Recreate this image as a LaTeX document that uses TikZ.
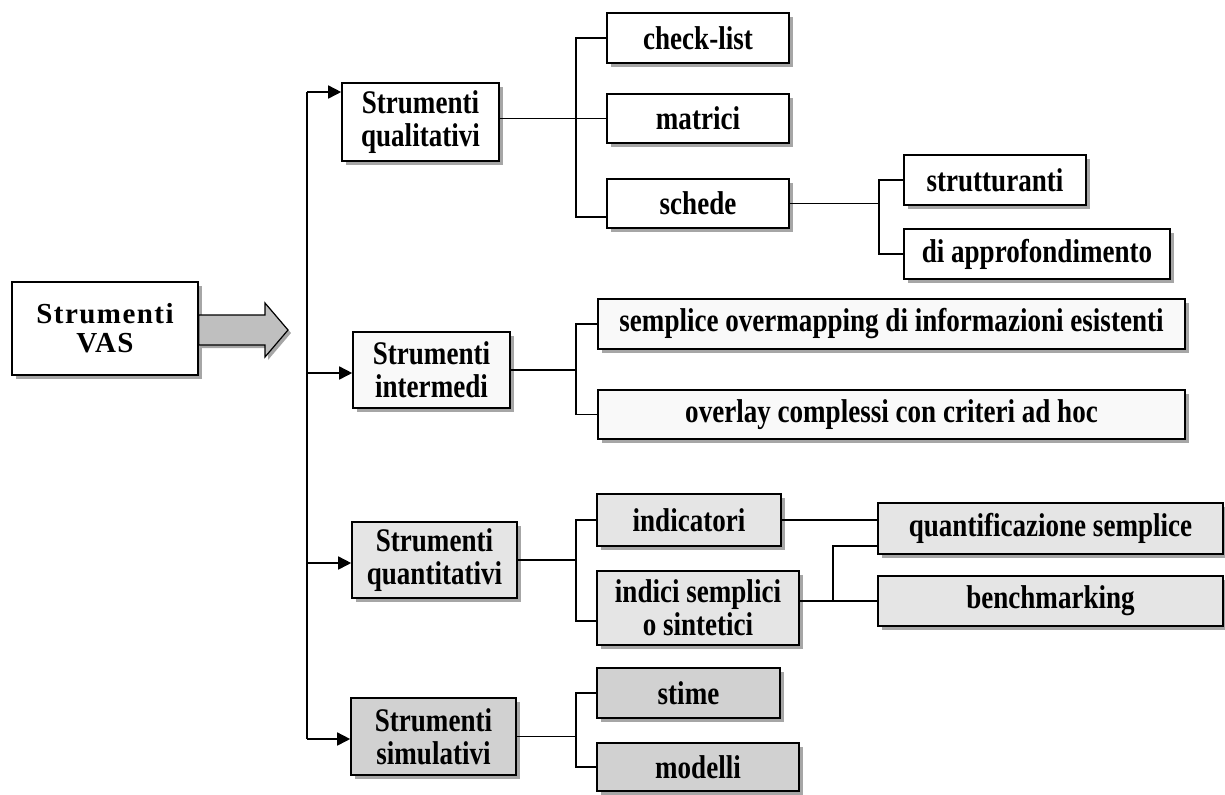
\documentclass[tikz,border=0pt]{standalone}
\usepackage{fontspec}
\setmainfont{Liberation Serif}[FakeStretch=0.82]
\newfontfamily\vasfont{Liberation Serif}[LetterSpace=5]
\usetikzlibrary{shadows,arrows.meta}

\begin{document}
\begin{tikzpicture}[x=0.5pt,y=-0.5pt,
  box/.style={draw=black, line width=0.8pt, fill=white, align=center, inner sep=0pt,
    font=\fontsize{16.5}{16.5}\selectfont\bfseries,
    drop shadow={shadow xshift=2pt, shadow yshift=-2pt, fill=gray!70, opacity=1}},
  white box/.style={box, fill=white},
  light box/.style={box, fill=gray!5},
  mid box/.style={box, fill=gray!20},
  dark box/.style={box, fill=gray!36},
  link/.style={line width=0.8pt},
  feed/.style={link, -{Triangle[length=6.5pt,width=6.5pt]}}
]
\useasboundingbox (0,0) rectangle (1225,794);

% root
\node[white box, minimum width=93pt, minimum height=46.5pt,
      font=\vasfont\fontsize{14.5}{14.5}\selectfont\bfseries] (vas) at (105,328.5) {Strumenti\\VAS};

% big arrow out of the root
\path[draw=black, line width=0.6pt, fill=gray!50,
      drop shadow={shadow xshift=1.5pt, shadow yshift=-1.5pt, fill=gray!70, opacity=1}]
  (vas.east |- 0,315) -- (265,315) -- (265,303) -- (288,330) -- (265,357) -- (265,345)
  -- (vas.east |- 0,345) -- cycle;

% first level
\node[white box, minimum width=78.5pt, minimum height=39pt] (qual)  at (420.5,122)   {Strumenti\\qualitativi};
\node[light box, minimum width=78.5pt, minimum height=38pt] (inter) at (431.5,370)   {Strumenti\\intermedi};
\node[mid box,   minimum width=82.5pt, minimum height=38pt] (quant) at (434.5,560)   {Strumenti\\quantitativi};
\node[dark box,  minimum width=82.5pt, minimum height=38.5pt] (sim) at (433.5,736.5) {Strumenti\\simulativi};

% qualitative tools
\node[white box, minimum width=91pt, minimum height=25pt]   (check)   at (698,38)    {check-list};
\node[white box, minimum width=91pt, minimum height=24.5pt] (matrici) at (698,118.5) {matrici};
\node[white box, minimum width=91pt, minimum height=24.5pt] (schede)  at (698,203.5) {schede};
\node[white box, minimum width=91pt, minimum height=25pt]   (strutt)  at (995,180)   {strutturanti};
\node[white box, minimum width=133pt, minimum height=25pt]  (diapp)   at (1037,254)  {di approfondimento};

% intermediate tools
\node[light box, minimum width=293.5pt, minimum height=25pt]   (sempl) at (891.5,324)   {semplice overmapping di informazioni esistenti};
\node[light box, minimum width=293.5pt, minimum height=24.5pt] (overl) at (891.5,414.5) {overlay complessi con criteri ad hoc};

% quantitative tools
\node[mid box, minimum width=92pt,  minimum height=26pt]   (indic)   at (689,520)    {indicatori};
\node[mid box, minimum width=101pt, minimum height=37pt]   (indici)  at (698,608)    {indici semplici\\o sintetici};
\node[mid box, minimum width=172.5pt, minimum height=25.5pt] (quantif) at (1050.5,528.5) {quantificazione semplice};
\node[mid box, minimum width=172.5pt, minimum height=25pt]   (bench)   at (1050.5,601)  {benchmarking};

% simulation tools
\node[dark box, minimum width=91.5pt, minimum height=25pt] (stime)   at (688.5,693) {stime};
\node[dark box, minimum width=101pt,  minimum height=24pt] (modelli) at (698,767)   {modelli};

% trunk with arrows to the first level
\coordinate (a1) at (307,92);
\coordinate (a2) at (307,373);
\coordinate (a3) at (307,563);
\coordinate (a4) at (307,739);
\draw[link] (a1) -- (a4);
\draw[feed] (a1) -- (a1 -| qual.west);
\draw[feed] (a2) -- (a2 -| inter.west);
\draw[feed] (a3) -- (a3 -| quant.west);
\draw[feed] (a4) -- (a4 -| sim.west);

% branch columns
\coordinate (b) at (576,0);
\coordinate (s) at (879,0);
\coordinate (k) at (833,0);
\coordinate (sch-in) at ([yshift=-6.75pt]schede.west);
\coordinate (ind-in) at ([yshift=-6.5pt]indici.west);
\coordinate (qs-in)  at ([yshift=-8.75pt]quantif.west);

% qualitative branch
\draw[link] (qual.east |- matrici.west) -- (matrici.west);
\draw[link] (check.west) -- (check.west -| b) -- (b |- sch-in) -- (sch-in);
\draw[link] (schede.east) -- (schede.east -| s);
\draw[link] (strutt.west) -- (strutt.west -| s) -- (s |- diapp.west) -- (diapp.west);

% intermediate branch
\draw[link] (inter.east) -- (inter.east -| b);
\draw[link] (sempl.west) -- (sempl.west -| b) -- (b |- overl.west) -- (overl.west);

% quantitative branch
\draw[link] (quant.east) -- (quant.east -| b);
\draw[link] (indic.west) -- (indic.west -| b) -- (b |- ind-in) -- (ind-in);
\draw[link] (indic.east) -- (indic.east -| quantif.west);
\draw[link] (bench.west -| indici.east) -- (bench.west);
\draw[link] (k |- bench.west) -- (k |- qs-in) -- (qs-in);

% simulation branch
\draw[link] (sim.east) -- (sim.east -| b);
\draw[link] (stime.west) -- (stime.west -| b) -- (b |- modelli.west) -- (modelli.west);
\end{tikzpicture}
\end{document}
